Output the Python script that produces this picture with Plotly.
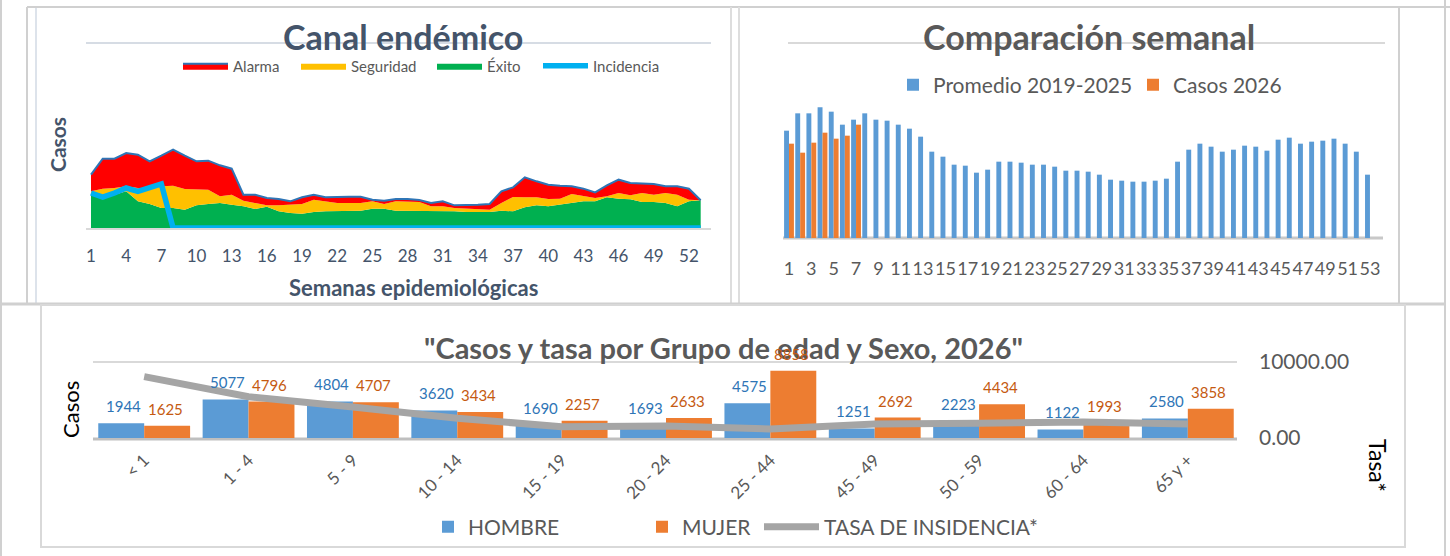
import plotly.graph_objects as go

W, H = 1450, 556

# ---------------- data ----------------
semanas = list(range(1, 54))
# Canal endémico: upper limit of each band (cumulative) and incidence
exito_sup = [100, 90, 100, 110, 80, 72, 60, 60, 55, 68, 72, 75, 70, 65, 57, 64, 50, 45, 43, 48,
             50, 50, 50, 52, 58, 58, 52, 52, 52, 52, 50, 50, 48, 48, 48, 52, 50, 62, 68, 65,
             70, 75, 80, 80, 92, 88, 86, 78, 78, 75, 65, 80, 83]
seguridad_sup = [110, 118, 120, 125, 120, 120, 125, 127, 117, 117, 115, 95, 100, 82, 75, 68, 68, 70, 72, 85,
                 80, 75, 75, 75, 80, 72, 80, 78, 78, 65, 65, 60, 58, 55, 55, 75, 93, 92, 92, 87,
                 88, 102, 95, 90, 95, 105, 98, 105, 100, 105, 100, 85, 83]
alarma_sup = [160, 208, 208, 225, 220, 200, 217, 235, 217, 200, 202, 188, 178, 100, 100, 90, 87, 80, 92, 100,
              92, 94, 94, 94, 85, 82, 87, 87, 84, 75, 80, 68, 68, 70, 72, 110, 122, 152, 140, 130,
              127, 125, 118, 107, 128, 145, 135, 134, 132, 125, 125, 118, 83]
incidencia = [105, 93, 105, 120, 110, 120, 132] + [0] * 46

# Comparación semanal
promedio = [322, 374, 374, 392, 379, 340, 355, 374, 355, 352, 340, 328, 304, 259, 244, 220, 217, 196, 205, 229,
            229, 226, 220, 220, 214, 202, 202, 199, 190, 175, 172, 169, 169, 172, 178, 229, 265, 283, 274, 259,
            265, 277, 274, 262, 295, 301, 283, 289, 292, 298, 283, 259, 190]
casos_2026 = [283, 256, 286, 316, 298, 307, 340]
semanas_2026 = semanas[:len(casos_2026)]

# Casos y tasa por grupo de edad y sexo
grupos = ["< 1", "1 - 4", "5 - 9", "10 - 14", "15 - 19", "20 - 24", "25 - 44",
          "45 - 49", "50 - 59", "60 - 64", "65 y +"]
hombre = [1944, 5077, 4804, 3620, 1690, 1693, 4575, 1251, 2223, 1122, 2580]
mujer = [1625, 4796, 4707, 3434, 2257, 2633, 8858, 2692, 4434, 1993, 3858]
tasa = [8070, 5430, 4080, 2590, 1490, 1580, 1180, 1840, 1930, 2100, 1840]

week_ticks = semanas[::3]
week_ticks2 = semanas[::2]

# ---------------- helpers ----------------
def px(x):
    return x / W

def py(y):
    return 1 - y / H

FONT = "Lato"
DARK = "#44546A"
GREY = "#595959"

fig = go.Figure()

# ---- Canal endémico ----
fig.add_trace(go.Scatter(x=semanas, y=exito_sup, name="Éxito", mode="lines",
                         line=dict(width=0, color="#00B050"), fill="tozeroy",
                         fillcolor="#00B050", xaxis="x", yaxis="y", legend="legend3"))
fig.add_trace(go.Scatter(x=semanas, y=seguridad_sup, name="Seguridad", mode="lines",
                         line=dict(width=0, color="#FFC000"), fill="tonexty",
                         fillcolor="#FFC000", xaxis="x", yaxis="y", legend="legend2"))
fig.add_trace(go.Scatter(x=semanas, y=alarma_sup, name="Alarma", mode="lines",
                         line=dict(width=2, color="#2E75B6"), fill="tonexty",
                         fillcolor="#FF0000", xaxis="x", yaxis="y", legend="legend10"))
fig.add_trace(go.Scatter(x=semanas, y=incidencia, name="Incidencia", mode="lines",
                         line=dict(width=5.5, color="#00B0F0"), xaxis="x", yaxis="y",
                         legend="legend4", cliponaxis=False))

# ---- Comparación semanal ----
fig.add_trace(go.Bar(x=semanas, y=promedio, name="Promedio 2019-2025",
                     marker=dict(color="#5B9BD5", line=dict(width=0)),
                     xaxis="x2", yaxis="y2", offsetgroup="a", legend="legend5"))
fig.add_trace(go.Bar(x=semanas_2026, y=casos_2026, name="Casos 2026",
                     marker=dict(color="#ED7D31", line=dict(width=0)),
                     xaxis="x2", yaxis="y2", offsetgroup="b", legend="legend6"))

# ---- Grupo de edad y sexo ----
fig.add_trace(go.Bar(x=grupos, y=hombre, name="HOMBRE",
                     marker=dict(color="#5B9BD5", line=dict(width=0)),
                     xaxis="x3", yaxis="y3", offsetgroup="h", legend="legend7"))
fig.add_trace(go.Bar(x=grupos, y=mujer, name="MUJER",
                     marker=dict(color="#ED7D31", line=dict(width=0)),
                     xaxis="x3", yaxis="y3", offsetgroup="m", legend="legend8"))
fig.add_trace(go.Scatter(x=grupos, y=tasa, name="TASA DE INSIDENCIA*", mode="lines",
                         line=dict(width=7, color="#A5A5A5"), xaxis="x3", yaxis="y4",
                         legend="legend9", cliponaxis=False))

# ---------------- axes ----------------
axis_off = dict(showgrid=False, zeroline=False, showline=False, ticks="", automargin=False)
fig.update_layout(
    xaxis=dict(domain=[px(86), px(711)], anchor="y", range=[0.574, 53.88],
               tickmode="array", tickvals=week_ticks, tickangle=0,
               tickfont=dict(family=FONT, size=17, color=DARK),
               ticklabelstandoff=16, **axis_off),
    yaxis=dict(domain=[py(228), py(43)], anchor="x", range=[0, 555],
               showticklabels=False, **axis_off),
    xaxis2=dict(domain=[px(783), px(1380)], anchor="y2", range=[0.463, 53.9],
                tickmode="array", tickvals=week_ticks2, tickangle=0,
                tickfont=dict(family=FONT, size=18, color=GREY),
                ticklabelstandoff=18, **axis_off),
    yaxis2=dict(domain=[py(238), py(43)], anchor="x2", range=[0, 585],
                showticklabels=False, **axis_off),
    xaxis3=dict(domain=[px(92), px(1240)], anchor="y3", type="category",
                tickangle=-45, tickfont=dict(family=FONT, size=17, color=GREY),
                ticklabelstandoff=8, **axis_off),
    yaxis3=dict(domain=[py(438), py(362)], anchor="x3", range=[0, 10000],
                showticklabels=False, **axis_off),
    yaxis4=dict(overlaying="y3", side="right", anchor="free", position=px(1258),
                range=[0, 10000], tickmode="array", tickvals=[0, 10000],
                tickformat=".2f", tickfont=dict(family=FONT, size=21, color=GREY),
                **axis_off),
    barmode="group",
    bargap=0.12,
    bargroupgap=0,
)

# ---------------- legends (one entry each, placed like the original) ----------------
def leg(x, y, size, itemwidth):
    return dict(orientation="h", x=px(x), y=py(y), xanchor="left", yanchor="middle",
                font=dict(family=FONT, size=size, color=GREY), bgcolor="rgba(0,0,0,0)",
                itemwidth=itemwidth)

fig.update_layout(
    showlegend=True,
    legend10=leg(178, 66, 15, 45),
    legend2=leg(296, 66, 15, 45),
    legend3=leg(432, 66, 15, 45),
    legend4=leg(538, 66, 15, 45),
    legend5=leg(893, 85, 21, 30),
    legend6=leg(1133, 85, 21, 30),
    legend7=leg(428, 527, 21, 30),
    legend8=leg(642, 527, 21, 30),
    legend9=leg(759, 527, 21, 55),
)

# ---------------- texts ----------------
ann = []
def text(x, y, s, size, color, bold=False, angle=0):
    ann.append(dict(x=px(x), y=py(y), xref="paper", yref="paper", text=(f"<b>{s}</b>" if bold else s),
                    showarrow=False, textangle=angle, xanchor="center", yanchor="middle",
                    font=dict(family=FONT, size=size, color=color)))

text(403, 36, "Canal endémico", 34, DARK, bold=True)
text(1089, 36, "Comparación semanal", 34, GREY, bold=True)
text(58, 145, "Casos", 21, DARK, bold=True, angle=-90)
text(413, 287, "Semanas epidemiológicas", 22, DARK, bold=True)
text(723, 347, "\"Casos y tasa por Grupo de edad y Sexo, 2026\"", 29, GREY, bold=True)
text(70, 410, "Casos", 22, "#000000", angle=-90)
text(1378, 465, "Tasa*", 23, "#000000", angle=90)

# data labels of the bottom chart (from the data arrays)
for g, h, m in zip(grupos, hombre, mujer):
    ann.append(dict(x=g, y=h, xref="x3", yref="y3", text=str(h), showarrow=False,
                    xshift=-21, yshift=17, yanchor="middle",
                    font=dict(family=FONT, size=15, color="#2E75B6")))
    ann.append(dict(x=g, y=m, xref="x3", yref="y3", text=str(m), showarrow=False,
                    xshift=21, yshift=17, yanchor="middle",
                    font=dict(family=FONT, size=15, color="#C55A11")))
fig.update_layout(annotations=ann)

# ---------------- frame and lines ----------------
shapes = []
def line(x0, y0, x1, y1, color="#D0D0D0", width=2, layer="below"):
    shapes.append(dict(type="line", xref="paper", yref="paper", x0=px(x0), y0=py(y0),
                       x1=px(x1), y1=py(y1), line=dict(color=color, width=width), layer=layer))

line(1, 0, 1, 556)
line(27, 7, 27, 304)
line(36, 7, 36, 304, color="#DDE3EB")
line(27, 7, 1450, 7)
line(731, 7, 731, 304, color="#DDDDDD")
line(739, 7, 739, 304, color="#DDDDDD")
line(1399, 7, 1399, 304)
line(1445, 0, 1445, 556)
line(0, 304, 1445, 304, width=3)
shapes.append(dict(type="rect", xref="paper", yref="paper", x0=px(41), y0=py(305),
                   x1=px(1405), y1=py(547), line=dict(color="#D9D9D9", width=2), layer="below"))
# chart grid / base lines
line(86, 43, 711, 43, color="#D6DCE4")
line(86, 229, 711, 229, color="#D9D9D9")
line(788, 43, 1385, 43, color="#D9D9D9")
line(783, 238, 1383, 238, color="#C8C8C8", width=3)
line(93, 362, 1237, 362, color="#D9D9D9")
line(93, 439, 1237, 439, color="#BFBFBF", width=3)
fig.update_layout(shapes=shapes)

fig.update_layout(width=W, height=H, autosize=False,
                  margin=dict(l=0, r=0, t=0, b=0, pad=0, autoexpand=False),
                  paper_bgcolor="white", plot_bgcolor="rgba(0,0,0,0)",
                  font=dict(family=FONT, color=GREY))

fig.write_html("out.html", config={"displayModeBar": False},
               post_script="document.body.style.margin='0';document.body.style.overflow='hidden';")
